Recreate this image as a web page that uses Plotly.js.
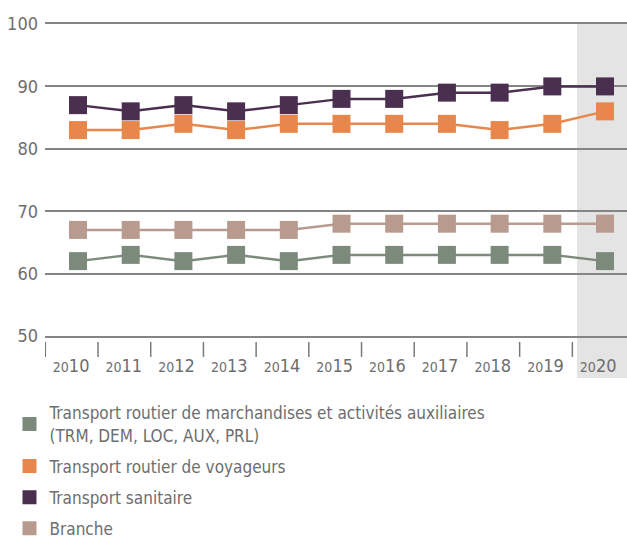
<!DOCTYPE html>
<html><head><meta charset="utf-8">
<script src="https://cdn.plot.ly/plotly-3.0.1.min.js"></script>
<style>html,body{margin:0;padding:0;background:#fff;}</style>
</head><body>
<div id="chart" style="width:627px;height:539px;"></div>
<script>
const years = [2010,2011,2012,2013,2014,2015,2016,2017,2018,2019,2020];
const yearLabels = years.map(y => "<span style='font-size:14px'>" + String(y).slice(0,2) + "</span>" + String(y).slice(2));
const seriesNames = [
  "Transport routier de marchandises et activités auxiliaires<br>(TRM, DEM, LOC, AUX, PRL)",
  "Transport routier de voyageurs",
  "Transport sanitaire",
  "Branche"
];
const trm = [62,63,62,63,62,63,63,63,63,63,62];
const voyageurs = [83,83,84,83,84,84,84,84,83,84,86];
const sanitaire = [87,86,87,86,87,88,88,89,89,90,90];
const branche = [67,67,67,67,67,68,68,68,68,68,68];
const yTicks = [50,60,70,80,90,100];
const colors = ["#7c8a7c","#e8874b","#4a2f50","#b89a8e"];
const values = [trm, voyageurs, sanitaire, branche];

const font = "DejaVu Sans Condensed, Roboto, sans-serif";
const grey = "#6d6e70";

const traces = [];
[3,0,1,2].forEach(i => {
  traces.push({
    type: "scatter", mode: "lines+markers", x: years, y: values[i],
    line: {color: colors[i], width: 2.5},
    marker: {symbol: "square", size: 18, color: colors[i]},
    showlegend: false, hoverinfo: "skip"
  });
});
[0,1,2,3].forEach(i => {
  traces.push({
    type: "bar", x: [null], y: [null], name: seriesNames[i], legendgroup: "g" + i,
    marker: {color: colors[i], line: {color: colors[i], width: 2}}, showlegend: true, hoverinfo: "skip"
  });
});

const shapes = [{
  type: "rect", xref: "paper", yref: "paper", x0: (577 - 45) / 582, x1: 1, y0: -0.135, y1: 1,
  fillcolor: "#e4e4e4", line: {width: 0}, layer: "below"
}];
years.forEach(y => {
  shapes.push({
    type: "line", xref: "x", yref: "paper", x0: y - 0.62, x1: y - 0.62, y0: -0.019, y1: -0.067,
    line: {color: "#7a7a7a", width: 1.5}
  });
});

const layout = {
  width: 627, height: 539,
  margin: {l: 45, r: 0, t: 24, b: 203, pad: 0, autoexpand: false},
  paper_bgcolor: "#fff", plot_bgcolor: "rgba(0,0,0,0)",
  font: {family: font, color: grey, size: 17},
  showlegend: true,
  legend: {
    x: -0.061, xanchor: "left", y: -0.19, yanchor: "top",
    orientation: "v", font: {family: font, size: 17, color: grey},
    bgcolor: "rgba(0,0,0,0)", tracegroupgap: 6, traceorder: "grouped"
  },
  xaxis: {
    type: "linear", range: [2009.374, 2020.417], fixedrange: true,
    tickvals: years.map(y => y - 0.13), ticktext: yearLabels,
    ticks: "", showgrid: false, zeroline: false,
    showline: true, mirror: true, linecolor: "#858585", linewidth: 2,
    tickfont: {family: font, size: 18, color: grey},
    ticklabelstandoff: 12
  },
  yaxis: {
    range: [50, 100], tickvals: yTicks, ticks: "",
    showgrid: true, gridcolor: "#858585", gridwidth: 2,
    zeroline: false, showline: false,
    tickfont: {family: font, size: 18, color: grey},
    ticklabelstandoff: 6
  },
  shapes: shapes
};
Plotly.newPlot("chart", traces, layout, {staticPlot: true, displayModeBar: false});
</script>
</body></html>
